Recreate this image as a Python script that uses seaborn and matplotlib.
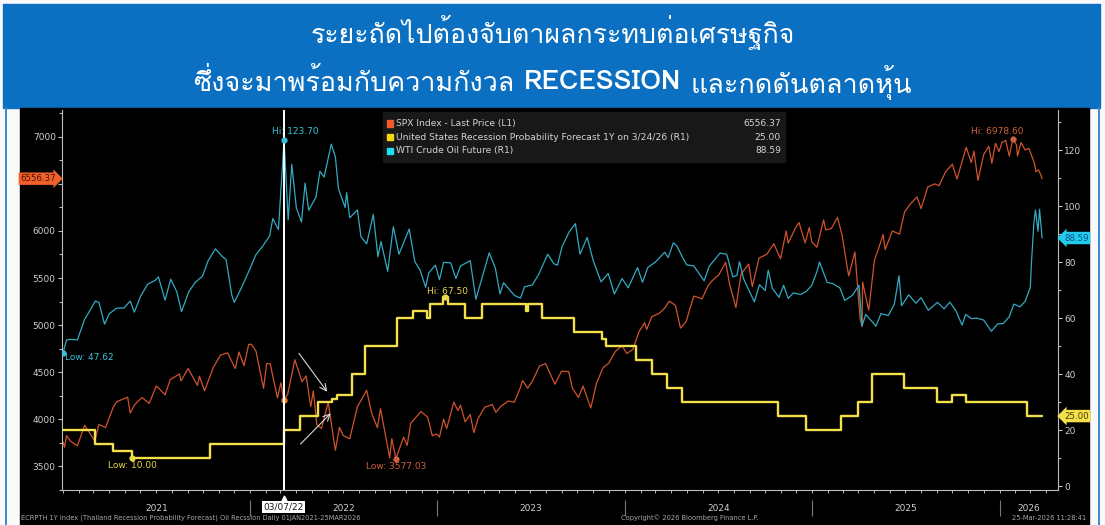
import numpy as np
import pandas as pd
import matplotlib
matplotlib.use("Agg")
import matplotlib.pyplot as plt
import matplotlib.dates as mdates
from matplotlib import font_manager
from matplotlib.ft2font import FT2Font
from matplotlib.patches import Rectangle
from matplotlib.lines import Line2D
from matplotlib.ticker import MultipleLocator, FixedLocator, FixedFormatter, FuncFormatter
import seaborn as sns

# ---------------- data ----------------
# SPX Index - Last Price (left axis)
spx_dates = [
    "2021-01-01", "2021-01-04", "2021-01-08", "2021-01-15", "2021-01-29", "2021-02-12", "2021-03-04", "2021-03-12",
    "2021-03-25", "2021-04-09", "2021-04-16", "2021-05-07", "2021-05-12", "2021-05-21", "2021-06-04", "2021-06-18",
    "2021-07-02", "2021-07-19", "2021-07-29", "2021-08-16", "2021-08-19", "2021-09-02", "2021-09-20", "2021-09-24",
    "2021-10-04", "2021-10-21", "2021-11-04", "2021-11-18", "2021-11-30", "2021-12-03", "2021-12-10", "2021-12-20",
    "2021-12-29",
    "2022-01-03", "2022-01-12", "2022-01-27", "2022-02-02", "2022-02-09", "2022-02-23", "2022-03-02", "2022-03-07",
    "2022-03-15", "2022-03-29", "2022-04-12", "2022-04-20", "2022-04-29", "2022-05-04", "2022-05-11", "2022-05-20",
    "2022-06-02", "2022-06-16", "2022-06-24", "2022-07-01", "2022-07-14", "2022-07-29", "2022-08-16", "2022-08-26",
    "2022-09-06", "2022-09-12", "2022-09-30", "2022-10-04", "2022-10-12", "2022-10-27", "2022-11-03", "2022-11-10",
    "2022-11-30", "2022-12-13", "2022-12-22", "2022-12-30",
    "2023-01-05", "2023-01-13", "2023-01-19", "2023-02-02", "2023-02-10", "2023-02-15", "2023-02-24", "2023-03-06",
    "2023-03-13", "2023-03-21", "2023-04-03", "2023-04-18", "2023-04-25", "2023-05-05", "2023-05-19", "2023-05-31",
    "2023-06-12", "2023-06-16", "2023-06-26", "2023-07-06", "2023-07-19", "2023-07-31", "2023-08-18", "2023-08-31",
    "2023-09-14", "2023-09-21", "2023-10-03", "2023-10-12", "2023-10-27", "2023-11-07", "2023-11-20", "2023-12-01",
    "2023-12-14", "2023-12-27",
    "2024-01-05", "2024-01-17", "2024-01-29", "2024-02-09", "2024-02-13", "2024-02-23", "2024-03-08", "2024-03-19",
    "2024-03-28", "2024-04-09", "2024-04-19", "2024-04-30", "2024-05-08", "2024-05-15", "2024-05-31", "2024-06-12",
    "2024-06-20", "2024-07-03", "2024-07-16", "2024-07-24", "2024-08-05", "2024-08-15", "2024-08-30", "2024-09-06",
    "2024-09-19", "2024-10-04", "2024-10-18", "2024-10-31", "2024-11-11", "2024-11-15", "2024-11-29", "2024-12-06",
    "2024-12-18", "2024-12-26", "2024-12-31",
    "2025-01-10", "2025-01-23", "2025-01-27", "2025-02-07", "2025-02-19", "2025-02-28", "2025-03-10", "2025-03-13",
    "2025-03-25", "2025-04-04", "2025-04-08", "2025-04-09", "2025-04-21", "2025-05-02", "2025-05-12", "2025-05-19",
    "2025-05-23", "2025-06-06", "2025-06-20", "2025-06-30", "2025-07-10", "2025-07-24", "2025-08-01", "2025-08-14",
    "2025-08-28", "2025-09-05", "2025-09-18", "2025-10-01", "2025-10-10", "2025-10-28", "2025-11-07", "2025-11-12",
    "2025-11-20", "2025-12-01", "2025-12-11", "2025-12-17", "2025-12-24", "2025-12-31",
    "2026-01-06", "2026-01-13", "2026-01-20", "2026-01-27", "2026-02-03", "2026-02-05", "2026-02-12", "2026-02-20",
    "2026-02-27", "2026-03-04", "2026-03-10", "2026-03-13", "2026-03-18", "2026-03-23", "2026-03-25",
]
spx_values = [
    3756, 3700, 3824, 3768, 3714, 3934, 3768, 3943,
    3909, 4128, 4185, 4232, 4063, 4155, 4229, 4166,
    4352, 4258, 4419, 4479, 4406, 4537, 4358, 4455,
    4300, 4549, 4680, 4704, 4567, 4538, 4712, 4568,
    4793,
    4796, 4726, 4326, 4589, 4587, 4225, 4387, 4201,
    4262, 4631, 4397, 4459, 4132, 4300, 3935, 3901,
    4176, 3667, 3912, 3825, 3790, 4130, 4305, 4058,
    3908, 4110, 3585, 3791, 3577.03, 3807, 3720, 3956,
    4080, 4019, 3822, 3840,
    3808, 3999, 3899, 4179, 4090, 4148, 3970, 4048,
    3855, 4002, 4124, 4154, 4071, 4136, 4191, 4180,
    4338, 4410, 4328, 4411, 4565, 4589, 4370, 4508,
    4505, 4330, 4229, 4350, 4117, 4378, 4547, 4594,
    4719, 4781,
    4697, 4739, 4928, 5026, 4953, 5088, 5123, 5178,
    5254, 5209, 4967, 5036, 5187, 5308, 5278, 5421,
    5473, 5537, 5667, 5427, 5186, 5543, 5648, 5408,
    5713, 5751, 5864, 5705, 6001, 5870, 6032, 6090,
    5872, 6037, 5882,
    5827, 6119, 6012, 6026, 6144, 5955, 5614, 5522,
    5777, 5074, 4982, 5457, 5158, 5687, 5844, 5963,
    5802, 6000, 5967, 6205, 6280, 6363, 6238, 6468,
    6501, 6482, 6631, 6711, 6552, 6890, 6728, 6850,
    6538, 6812, 6901, 6721, 6932, 6845,
    6944, 6963, 6797, 6978.60, 6917, 6798, 6941, 6861,
    6880, 6810, 6720, 6632, 6650, 6590, 6556.37,
]

# WTI Crude Oil Future (right axis)
wti_dates = [
    "2021-01-01", "2021-01-08", "2021-01-15", "2021-01-29", "2021-02-12", "2021-02-25", "2021-03-05", "2021-03-12",
    "2021-03-23", "2021-04-01", "2021-04-15", "2021-04-30", "2021-05-12", "2021-05-20", "2021-06-01", "2021-06-15",
    "2021-06-30", "2021-07-06", "2021-07-19", "2021-07-30", "2021-08-11", "2021-08-20", "2021-09-03", "2021-09-15",
    "2021-09-30", "2021-10-11", "2021-10-25", "2021-11-08", "2021-11-15", "2021-11-26", "2021-12-01", "2021-12-15",
    "2021-12-30",
    "2022-01-12", "2022-01-25", "2022-02-08", "2022-02-14", "2022-02-25", "2022-03-01", "2022-03-08", "2022-03-16",
    "2022-03-23", "2022-04-01", "2022-04-11", "2022-04-18", "2022-04-25", "2022-05-09", "2022-05-17", "2022-05-25",
    "2022-06-08", "2022-06-16", "2022-06-22", "2022-07-05", "2022-07-08", "2022-07-14", "2022-07-29", "2022-08-05",
    "2022-08-16", "2022-08-29", "2022-09-07", "2022-09-13", "2022-09-26", "2022-10-07", "2022-10-18", "2022-11-07",
    "2022-11-18", "2022-11-28", "2022-12-09", "2022-12-15", "2022-12-28",
    "2023-01-05", "2023-01-13", "2023-01-27", "2023-02-06", "2023-02-15", "2023-03-06", "2023-03-17", "2023-03-31",
    "2023-04-12", "2023-04-24", "2023-05-03", "2023-05-10", "2023-05-31", "2023-06-12", "2023-06-20", "2023-07-05",
    "2023-07-18", "2023-08-04", "2023-08-16", "2023-08-23", "2023-09-01", "2023-09-15", "2023-09-27", "2023-10-06",
    "2023-10-20", "2023-11-01", "2023-11-16", "2023-11-30", "2023-12-12", "2023-12-27",
    "2024-01-08", "2024-01-26", "2024-02-05", "2024-02-15", "2024-03-01", "2024-03-19", "2024-03-26", "2024-04-05",
    "2024-04-12", "2024-04-22", "2024-05-01", "2024-05-15", "2024-06-04", "2024-06-14", "2024-07-05", "2024-07-18",
    "2024-07-30", "2024-08-07", "2024-08-12", "2024-08-20", "2024-09-10", "2024-09-20", "2024-10-01", "2024-10-07",
    "2024-10-15", "2024-10-28", "2024-11-06", "2024-11-15", "2024-11-25", "2024-12-09", "2024-12-20", "2024-12-31",
    "2025-01-10", "2025-01-15", "2025-01-30", "2025-02-10", "2025-02-24", "2025-03-05", "2025-03-20", "2025-04-02",
    "2025-04-08", "2025-04-15", "2025-04-30", "2025-05-05", "2025-05-15", "2025-05-29", "2025-06-10", "2025-06-19",
    "2025-06-24", "2025-07-08", "2025-07-22", "2025-08-01", "2025-08-15", "2025-09-02", "2025-09-15", "2025-09-26",
    "2025-10-08", "2025-10-20", "2025-10-27", "2025-11-07", "2025-11-17", "2025-12-01", "2025-12-16", "2025-12-29",
    "2026-01-08", "2026-01-20", "2026-01-29", "2026-02-10", "2026-02-20", "2026-03-02", "2026-03-04", "2026-03-09",
    "2026-03-12", "2026-03-17", "2026-03-20", "2026-03-25",
]
wti_values = [
    47.62, 52.2, 52.4, 52.2, 59.5, 63.5, 66.1, 65.6,
    57.8, 61.5, 63.5, 63.6, 66.1, 62.1, 67.7, 72.1,
    73.5, 74.7, 66.4, 73.9, 69.3, 62.3, 69.3, 72.6,
    75.0, 80.5, 84.7, 81.9, 80.9, 68.2, 65.6, 70.9,
    76.99,
    82.6, 85.6, 89.4, 95.5, 91.6, 103.4, 123.70, 95.0,
    114.9, 99.3, 94.3, 108.2, 98.5, 103.1, 112.4, 110.3,
    122.1, 117.6, 106.2, 99.5, 104.8, 95.8, 98.6, 89.0,
    86.5, 97.0, 81.9, 87.3, 76.7, 92.6, 82.8, 91.8,
    80.1, 77.2, 71.0, 76.1, 78.9,
    73.7, 79.9, 79.7, 74.1, 78.6, 80.5, 66.7, 75.7,
    83.3, 77.8, 68.6, 72.6, 68.1, 67.1, 71.2, 71.8,
    75.8, 82.8, 79.4, 78.9, 85.5, 90.8, 93.7, 82.8,
    88.8, 80.4, 72.9, 75.9, 68.6, 74.1,
    70.8, 78.0, 72.8, 78.0, 80.0, 83.5, 81.6, 86.9,
    85.7, 82.0, 79.0, 78.6, 73.3, 78.5, 83.2, 82.8,
    74.7, 75.2, 80.1, 74.0, 65.8, 71.9, 69.8, 77.1,
    70.6, 67.4, 71.7, 67.0, 69.0, 68.4, 69.5, 71.7,
    76.6, 80.0, 72.7, 72.3, 70.7, 66.3, 68.1, 71.7,
    57.2, 61.3, 58.2, 57.1, 61.6, 60.9, 65.0, 75.1,
    64.4, 68.3, 65.3, 67.3, 62.8, 65.6, 63.3, 65.7,
    62.6, 57.5, 61.3, 59.8, 60.0, 59.3, 55.3, 58.0,
    58.0, 60.5, 65.0, 64.0, 66.0, 71.0, 79.0, 94.0,
    98.6, 91.0, 98.9, 88.59,
]

# United States Recession Probability Forecast 1Y (right axis, step series)
rec_dates = [
    "2021-01-01", "2021-03-04", "2021-04-08", "2021-05-15", "2021-10-15",
    "2022-03-07", "2022-04-08", "2022-05-13", "2022-06-09", "2022-06-19",
    "2022-07-18", "2022-08-13", "2022-10-14", "2022-11-14", "2022-12-12",
    "2022-12-17", "2023-01-12", "2023-01-21", "2023-02-24", "2023-03-28",
    "2023-06-23", "2023-06-26", "2023-07-23", "2023-09-25", "2023-11-17",
    "2023-11-26", "2024-01-24", "2024-02-24", "2024-03-24", "2024-04-21",
    "2024-10-27", "2024-12-19", "2025-02-26", "2025-03-31", "2025-04-27",
    "2025-06-28", "2025-09-01", "2025-09-30", "2025-10-27", "2026-02-23",
    "2026-03-25",
]
rec_values = [
    20, 15, 12.5, 10, 15,
    20, 25, 30, 31, 32.5,
    40, 50, 60, 62.5, 60,
    65, 67.5, 65, 60, 65,
    62.5, 65, 60, 55, 52.5,
    50, 45, 40, 35, 30,
    25, 20, 25, 30, 40,
    35, 30, 32.5, 30, 25,
    25,
]

legend_labels = [
    "SPX Index - Last Price (L1)",
    "United States Recession Probability Forecast 1Y on 3/24/26 (R1)",
    "WTI Crude Oil Future (R1)",
]
year_labels = ["2021", "2022", "2023", "2024", "2025", "2026"]
marker_date = "2022-03-07"
marker_label = "03/07/22"

title_line1 = "ระยะถัดไปต้องจับตาผลกระทบต่อเศรษฐกิจ"
title_line2 = ["ซึ่งจะมาพร้อมกับความกังวล", "RECESSION", "และกดดันตลาดหุ้น"]

footer_left = "ECRPTH 1Y Index (Thailand Recession Probability Forecast) Oil Recssion Daily 01JAN2021-25MAR2026"
footer_mid = "Copyright\u00a9 2026 Bloomberg Finance L.P."
footer_right = "25-Mar-2026 11:28:41"

assert len(spx_dates) == len(spx_values)
assert len(wti_dates) == len(wti_values)
assert len(rec_dates) == len(rec_values)

# ---------------- styling ----------------
SPX_C = "#d0532d"
WTI_C = "#33aac2"
REC_C = "#f3e04a"
AX_C = "#bdbdbd"
TXT_C = "#cfcfcf"
BLUE = "#0b70c2"

sns.set_theme(style="dark", rc={"axes.facecolor": "black", "figure.facecolor": "#fafafa"})
plt.rcParams["font.family"] = ["DejaVu Sans"]


def find_thai_family():
    names = []
    for f in font_manager.fontManager.ttflist:
        try:
            cmap = FT2Font(f.fname).get_charmap()
        except Exception:
            continue
        if 0x0E01 in cmap and 0x0E49 in cmap:
            names.append(f.name)
    return names[0] if names else None


thai = find_thai_family()
title_family = [thai, "DejaVu Sans"] if thai else ["DejaVu Sans"]

W, H = 1105, 525
fig = plt.figure(figsize=(W / 100, H / 100), dpi=100)


def fx(px):
    return px / W


def fy(py):
    return 1 - py / H


# frame: blue banner, black panel, thin blue side lines
fig.add_artist(Rectangle((fx(3), fy(108)), fx(1100) - fx(3), fy(4) - fy(108),
                         transform=fig.transFigure, color=BLUE, zorder=-3))
fig.add_artist(Rectangle((fx(20), 0), fx(1089) - fx(20), fy(108),
                         transform=fig.transFigure, color="black", zorder=-3))
for xl in (6, 1099):
    fig.add_artist(Line2D([fx(xl), fx(xl)], [0, fy(108)], transform=fig.transFigure,
                          color="#3a88d0", lw=1.4, zorder=-3))

ax = fig.add_axes([fx(62), fy(490), fx(1058) - fx(62), fy(110) - fy(490)])
ax2 = ax.twinx()

spx = pd.DataFrame({"date": pd.to_datetime(spx_dates), "price": spx_values})
wti = pd.DataFrame({"date": pd.to_datetime(wti_dates), "price": wti_values})
rec = pd.DataFrame({"date": pd.to_datetime(rec_dates), "prob": rec_values})

sns.lineplot(data=spx, x="date", y="price", ax=ax, color=SPX_C, lw=0.9,
             estimator=None, legend=False)
sns.lineplot(data=wti, x="date", y="price", ax=ax2, color=WTI_C, lw=0.9,
             estimator=None, legend=False, zorder=3)
sns.lineplot(data=rec, x="date", y="prob", ax=ax2, color=REC_C, lw=1.7,
             estimator=None, legend=False, drawstyle="steps-post", zorder=4)

x_end = pd.Timestamp("2026-04-25")
ax.set_xlim(pd.Timestamp("2020-12-30"), x_end)
ax.set_ylim(3245, 7287)
ax2.set_ylim(-1.4, 134.3)
ax2.set_facecolor("none")

for a in (ax, ax2):
    a.grid(False)
    a.set_xlabel("")
    a.set_ylabel("")
    for s in a.spines.values():
        s.set_visible(False)
for s in (ax.spines["left"], ax.spines["bottom"], ax2.spines["right"]):
    s.set_visible(True)
    s.set_color(AX_C)
    s.set_linewidth(0.8)

# the last-price tag sits on top of the tick label nearest to it
spx_last = spx_values[-1]
ax.yaxis.set_major_locator(MultipleLocator(500))
ax.yaxis.set_major_formatter(FuncFormatter(lambda v, p: "" if abs(v - spx_last) < 250 else f"{v:.0f}"))
ax.yaxis.set_minor_locator(MultipleLocator(250))
ax.tick_params(axis="y", which="both", left=True, direction="out", colors=AX_C,
               labelcolor=TXT_C, labelsize=6.5, width=0.8, pad=1.5)
ax.tick_params(axis="y", which="major", length=3)
ax.tick_params(axis="y", which="minor", length=2)

ax2.yaxis.set_major_locator(MultipleLocator(20))
ax2.yaxis.set_minor_locator(MultipleLocator(10))
ax2.tick_params(axis="y", which="both", right=True, direction="out", colors=AX_C,
                labelcolor=TXT_C, labelsize=6.5, width=0.8, pad=1.5)
ax2.tick_params(axis="y", which="major", length=3)
ax2.tick_params(axis="y", which="minor", length=2)

# year labels centred in each year, monthly minor ticks
years = [int(y) for y in year_labels]
label_pos = [pd.Timestamp(f"{y}-07-02") for y in years[:-1]]
last_start = pd.Timestamp(f"{years[-1]}-01-01")
label_pos.append(last_start + (x_end - last_start) / 2)
ax.xaxis.set_major_locator(FixedLocator(mdates.date2num(label_pos)))
ax.xaxis.set_major_formatter(FixedFormatter(year_labels))
ax.xaxis.set_minor_locator(mdates.MonthLocator())
ax.tick_params(axis="x", which="major", bottom=True, length=0, pad=10,
               labelsize=6.5, labelcolor=TXT_C)
ax.tick_params(axis="x", which="minor", bottom=True, direction="out",
               length=2.5, width=0.7, colors=AX_C)

year_starts = mdates.date2num([pd.Timestamp(f"{y}-01-01") for y in years[1:]])
ax.vlines(year_starts, -0.027, -0.068, transform=ax.get_xaxis_transform(),
          colors="#7a7a7a", lw=0.8, clip_on=False)

# crosshair on 03/07/22
mdate = pd.Timestamp(marker_date)
ax2.axvline(mdate, color="white", lw=1.4, zorder=6)
ax.plot([mdates.date2num(mdate)], [-0.022], marker="^", ms=3.5, color="white",
        transform=ax.get_xaxis_transform(), clip_on=False)
ax.annotate(marker_label, xy=(mdates.date2num(mdate), 0), xycoords=("data", "axes fraction"),
            xytext=(0, -17), textcoords="offset pixels", ha="center", va="center",
            fontsize=6.5, color="#1a1a1a", annotation_clip=False,
            bbox=dict(boxstyle="square,pad=0.2", fc="white", ec="none"))
spx_at_mark = spx.loc[spx["date"] == mdate, "price"].iloc[0]
ax.plot([mdate], [spx_at_mark], "o", ms=3.5, color="#f07a2a", zorder=7)


def mark(axis, date, value, color, text, dx, dy, ha="center"):
    axis.plot([date], [value], "o", ms=3.5, color=color, zorder=7)
    axis.annotate(text, xy=(mdates.date2num(date), value), xytext=(dx, dy),
                  textcoords="offset pixels", ha=ha, va="center", fontsize=6.5,
                  color=color, zorder=5)


i = wti["price"].idxmax()
mark(ax2, wti["date"][i], wti["price"][i], "#3cc0da", f"Hi: {wti['price'][i]:.2f}", 11, 8)
i = wti["price"].idxmin()
mark(ax2, wti["date"][i], wti["price"][i], "#3cc0da", f"Low: {wti['price'][i]:.2f}", 2, -5, ha="left")
i = rec["prob"].idxmin()
mark(ax2, rec["date"][i], rec["prob"][i], "#e8d84a", f"Low: {rec['prob'][i]:.2f}", 1, -7)
i = rec["prob"].idxmax()
mid = rec["date"][i] + (rec["date"][i + 1] - rec["date"][i]) / 2
mark(ax2, mid, rec["prob"][i], "#e8d84a", f"Hi: {rec['prob'][i]:.2f}", 2, 6)
i = spx["price"].idxmin()
mark(ax, spx["date"][i], spx["price"][i], "#d0603a", f"Low: {spx['price'][i]:.2f}", 0, -8)
i = spx["price"].idxmax()
mark(ax, spx["date"][i], spx["price"][i], "#d0603a", f"Hi: {spx['price'][i]:.2f}", -16, 7)

# hand-drawn arrows pointing at the SPX / recession crossing
arrow_kw = dict(arrowstyle="->", color="#d8d8d8", lw=0.8, shrinkA=0, shrinkB=0)
ax.annotate("", xy=(mdates.date2num(pd.Timestamp("2022-05-31")), 4290),
            xytext=(mdates.date2num(pd.Timestamp("2022-04-06")), 4699), arrowprops=arrow_kw, zorder=8)
ax.annotate("", xy=(mdates.date2num(pd.Timestamp("2022-06-07")), 4061),
            xytext=(mdates.date2num(pd.Timestamp("2022-04-09")), 3734), arrowprops=arrow_kw, zorder=8)

# last-value tags on both axes
ax.annotate(f"{spx_last:.2f}", xy=(0, spx_last), xycoords=("axes fraction", "data"),
            xytext=(-6, 0), textcoords="offset pixels", ha="right", va="center",
            fontsize=6.2, color="#4a0f00", annotation_clip=False, zorder=10,
            bbox=dict(boxstyle="rarrow,pad=0.2", fc="#f0602a", ec="none"))
ax2.annotate(f"{wti_values[-1]:.2f}", xy=(1, wti_values[-1]), xycoords=("axes fraction", "data"),
             xytext=(6, 0), textcoords="offset pixels", ha="left", va="center",
             fontsize=6.2, color="#0a4f8c", annotation_clip=False, zorder=10,
             bbox=dict(boxstyle="larrow,pad=0.2", fc="#22cbea", ec="none"))
ax2.annotate(f"{rec_values[-1]:.2f}", xy=(1, rec_values[-1]), xycoords=("axes fraction", "data"),
             xytext=(6, 0), textcoords="offset pixels", ha="left", va="center",
             fontsize=6.2, color="#4a3d00", annotation_clip=False, zorder=10,
             bbox=dict(boxstyle="larrow,pad=0.2", fc="#f3e04a", ec="none"))

# legend panel
legend_colors = ["#f05a2a", "#f5d90a", "#1ee0f5"]
legend_values = [f"{spx_last:.2f}", f"{rec_values[-1]:.2f}", f"{wti_values[-1]:.2f}"]
fig.add_artist(Rectangle((fx(383), fy(162)), fx(785) - fx(383), fy(112) - fy(162),
                         transform=fig.transFigure, color="#181818", zorder=5))
for k, (c, lab, val) in enumerate(zip(legend_colors, legend_labels, legend_values)):
    yy = 123.5 + 13.5 * k
    fig.add_artist(Rectangle((fx(386.5), fy(yy + 3)), 6 / W, 6 / H,
                             transform=fig.transFigure, color=c, zorder=6))
    fig.text(fx(396), fy(yy), lab, ha="left", va="center", fontsize=6.6, color="#d4d4d4", zorder=6)
    fig.text(fx(781), fy(yy), val, ha="right", va="center", fontsize=6.6, color="#d4d4d4", zorder=6)

# footer
fig.text(fx(21), fy(518), footer_left, ha="left", va="center", fontsize=4.8, color="#a8a8a8")
fig.text(fx(621), fy(518), footer_mid, ha="left", va="center", fontsize=4.8, color="#a8a8a8")
fig.text(fx(1086), fy(518), footer_right, ha="right", va="center", fontsize=4.8, color="#a8a8a8")

# Thai headline in the blue banner, fitted to the widths seen in the picture
renderer = fig.canvas.get_renderer()


def width(t):
    return t.get_window_extent(renderer).width


t1 = fig.text(0.5, fy(32), title_line1, ha="center", va="center", fontsize=17,
              color="white", family=title_family, weight="light")
t1.set_fontsize(17 * 485 / width(t1))

parts = [fig.text(0, fy(82), s, ha="left", va="center", fontsize=17, color="white",
                  family=title_family, weight=w)
         for s, w in zip(title_line2, ["light", "bold", "light"])]
gap = 0.35 * 17 * 100 / 72
scale = 717 / (sum(width(p) for p in parts) + 2 * gap)
for p in parts:
    p.set_fontsize(17 * scale)
gap *= scale
widths = [width(p) for p in parts]
x = (W - (sum(widths) + 2 * gap)) / 2
for p, w in zip(parts, widths):
    p.set_x(x / W)
    x += w + gap

fig.savefig("out.png", dpi=100)
